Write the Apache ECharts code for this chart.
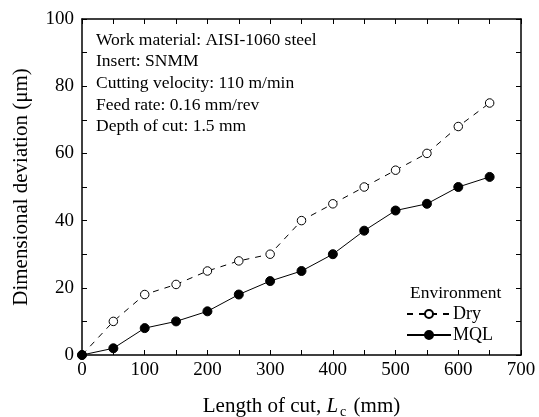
<!DOCTYPE html>
<html><head><meta charset="utf-8">
<script src="https://cdn.jsdelivr.net/npm/echarts@6/dist/echarts.min.js"></script>
<style>html,body{margin:0;padding:0;background:#fff}#c{width:539px;height:417px}</style>
</head><body><div id="c"></div>
<script>
const lengthOfCut = [0, 50, 100, 150, 200, 250, 300, 350, 400, 450, 500, 550, 600, 650];
const dryValues = [0, 10, 18, 21, 25, 28, 30, 40, 45, 50, 55, 60, 68, 75];
const mqlValues = [0, 2, 8, 10, 13, 18, 22, 25, 30, 37, 43, 45, 50, 53];
const seriesNames = ['Dry', 'MQL'];
const legendTitle = 'Environment';
const infoLines = ['Work material: AISI-1060 steel', 'Insert: SNMM', 'Cutting velocity: 110 m/min', 'Feed rate: 0.16 mm/rev', 'Depth of cut: 1.5 mm'];

const FONT = '"Liberation Serif", "Times New Roman", serif';
const chart = echarts.init(document.getElementById('c'), null, {renderer: 'canvas'});
const axisCommon = {
  type: 'value', min: 0,
  axisLine: {show: true, onZero: false, lineStyle: {color: '#000', width: 1.5}},
  axisTick: {show: true, inside: true, length: 5, lineStyle: {color: '#000', width: 1}},
  minorTick: {show: true, splitNumber: 2, length: 5, lineStyle: {color: '#000', width: 1}},
  splitLine: {show: false},
  axisLabel: {color: '#000', fontFamily: FONT, fontSize: 19}
};
const pairs = a => lengthOfCut.map((x, i) => [x, a[i]]);
chart.setOption({
  animation: false,
  grid: {left: 82, right: 18, top: 19, bottom: 62, containLabel: false, outerBoundsMode: 'none'},
  xAxis: [
    Object.assign({}, axisCommon, {position: 'bottom', max: 700, interval: 100,
      axisLabel: Object.assign({}, axisCommon.axisLabel, {margin: 6}),
      name: '{n|Length of cut, }{i|L}{s|c}{n| (mm)}', nameLocation: 'middle', nameGap: 38,
      nameTextStyle: {rich: {
        n: {fontFamily: FONT, fontSize: 21, color: '#000'},
        i: {fontFamily: FONT, fontSize: 21, fontStyle: 'italic', color: '#000'},
        s: {fontFamily: FONT, fontSize: 14, color: '#000', verticalAlign: 'bottom', padding: [12, 2, 0, 2]}
      }}}),
    Object.assign({}, axisCommon, {position: 'top', max: 700, interval: 100, axisLabel: {show: false}})
  ],
  yAxis: [
    Object.assign({}, axisCommon, {position: 'left', max: 100, interval: 20,
      axisLabel: Object.assign({}, axisCommon.axisLabel, {margin: 8}),
      name: 'Dimensional deviation (\u03bcm)', nameLocation: 'middle', nameGap: 50,
      nameTextStyle: {fontFamily: FONT, fontSize: 21, color: '#000'}}),
    Object.assign({}, axisCommon, {position: 'right', max: 100, interval: 20, axisLabel: {show: false}})
  ],
  legend: {
    data: seriesNames, orient: 'vertical', left: 406, top: 305, padding: 0,
    itemWidth: 44, itemHeight: 10, itemGap: 3,
    textStyle: {fontFamily: FONT, fontSize: 18, color: '#000', padding: [0, 0, 0, -3]}
  },
  graphic: [
    {type: 'text', left: 410, top: 284, style: {text: legendTitle, font: '17.5px ' + FONT, fill: '#000'}}
  ].concat(infoLines.map((t, i) => ({
    type: 'text', left: 96, top: 31 + i * 21.7,
    style: {text: t, font: '17.5px ' + FONT, fill: '#000'}
  }))),
  series: [
    {name: seriesNames[0], type: 'line', data: pairs(dryValues), xAxisIndex: 0, yAxisIndex: 0,
      symbol: 'circle', symbolSize: 8.5,
      lineStyle: {color: '#000', width: 1, type: [6, 6]},
      itemStyle: {color: '#fff', borderColor: '#000', borderWidth: 1}},
    {name: seriesNames[1], type: 'line', data: pairs(mqlValues), xAxisIndex: 0, yAxisIndex: 0,
      symbol: 'circle', symbolSize: 9,
      lineStyle: {color: '#000', width: 1},
      itemStyle: {color: '#000', borderColor: '#000', borderWidth: 1}}
  ]
});
</script></body></html>
